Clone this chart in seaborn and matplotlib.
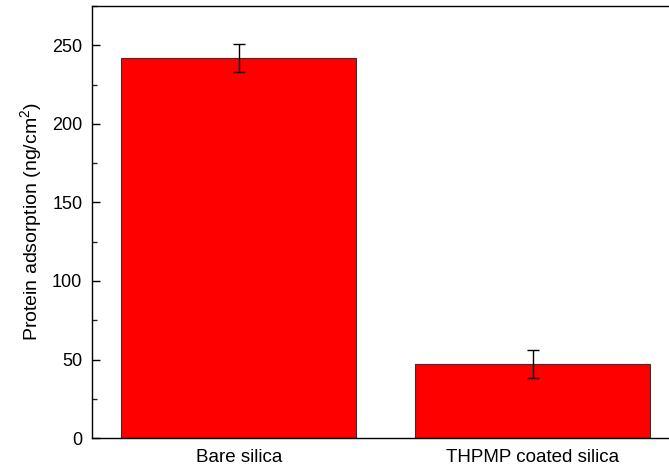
import numpy as np
import pandas as pd
import matplotlib
matplotlib.use('Agg')
import matplotlib.pyplot as plt
import seaborn as sns
from matplotlib.ticker import MultipleLocator

# data
samples = ['Bare silica', 'THPMP coated silica']
adsorption = [242, 47]
adsorption_err = [9, 9]

sns.set_theme(style='ticks')
plt.rcParams['font.family'] = ['Liberation Sans', 'DejaVu Sans']
plt.rcParams['mathtext.fontset'] = 'custom'
plt.rcParams['mathtext.rm'] = 'Liberation Sans'
plt.rcParams['mathtext.it'] = 'Liberation Sans:italic'

df = pd.DataFrame({'Sample': samples, 'Adsorption': adsorption, 'Err': adsorption_err})

fig = plt.figure(figsize=(6.69, 4.71), dpi=100)
ax = fig.add_axes([0.1375, 0.070, 0.878, 0.917])

sns.barplot(data=df, x='Sample', y='Adsorption', color='#ff0000', saturation=1,
            width=0.8, edgecolor='#333333', linewidth=0.8, errorbar=None, ax=ax)
ax.errorbar(range(len(samples)), df['Adsorption'], yerr=df['Err'], fmt='none',
            ecolor='black', elinewidth=1.0, capsize=4, capthick=1.0)

ax.set_xlim(-0.5, 1.5)
ax.set_ylim(0, 275)
ax.yaxis.set_major_locator(MultipleLocator(50))
ax.yaxis.set_minor_locator(MultipleLocator(25))
ax.tick_params(axis='y', which='major', direction='in', length=6, width=1, labelsize=13, pad=7, colors='black')
ax.tick_params(axis='y', which='minor', direction='in', length=3.5, width=1)
ax.tick_params(axis='x', which='both', length=0, labelsize=13.5, pad=8, colors='black')

ax.set_xlabel('')
ax.set_ylabel('Protein adsorption (ng/cm$^2$)', fontsize=14, color='black', labelpad=6)

for s in ax.spines.values():
    s.set_linewidth(1.0)
    s.set_color('black')

fig.savefig('out.png', dpi=100)
